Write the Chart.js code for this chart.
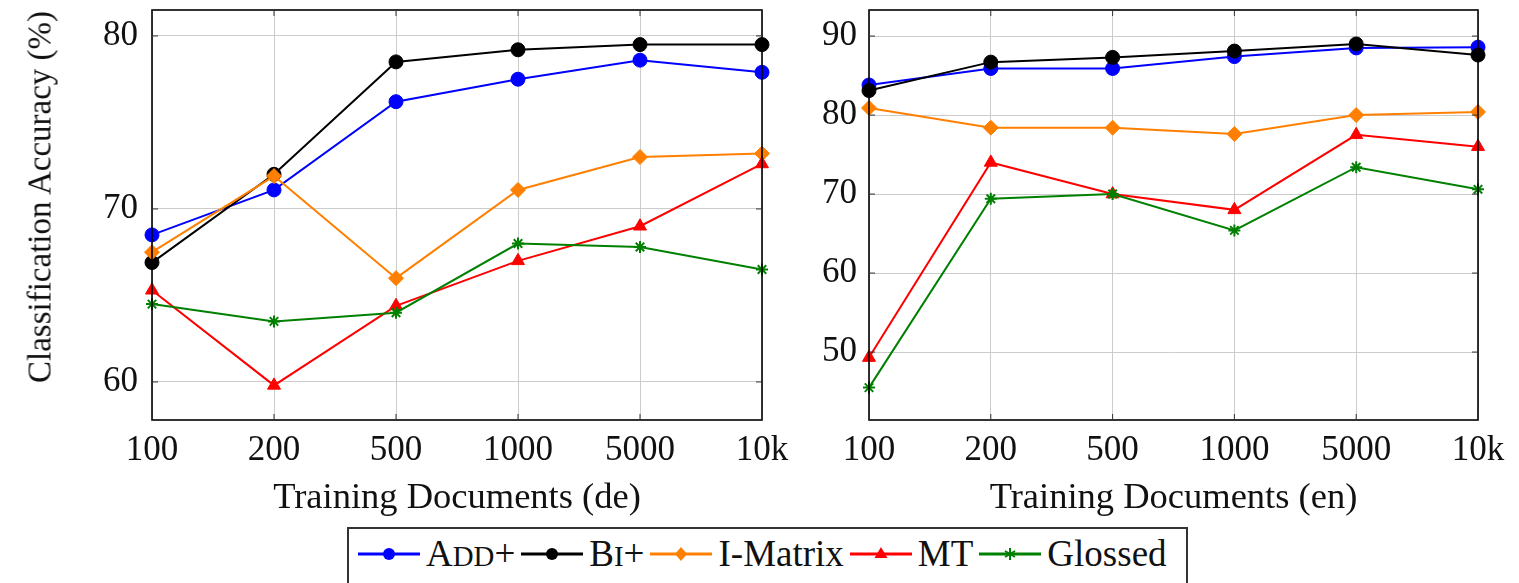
<!DOCTYPE html>
<html>
<head>
<meta charset="utf-8">
<script src="https://cdn.jsdelivr.net/npm/chart.js@4"></script>
<style>
  body { margin: 0; background: #fff; width: 1519px; height: 583px; overflow: hidden; position: relative; }
  .panel { position: absolute; top: 0; height: 520px; }
  #left { left: 0; width: 790px; }
  #right { left: 780px; width: 739px; }
  .ytitle {
    position: absolute; left: 40px; top: 197px; white-space: nowrap;
    transform: translate(-50%, -50%) rotate(-90deg);
    font-family: "Liberation Serif", serif; font-size: 33px; color: #111; line-height: 1;
  }
  .legend {
    position: absolute; left: 347px; top: 527px; width: 841px; height: 70px;
    border: 2px solid #333; box-sizing: border-box;
    display: flex; align-items: flex-start; padding: 3px 0 0 9px;
    font-family: "Liberation Serif", serif; font-size: 37px; color: #111;
  }
  .legend .item { display: flex; align-items: center; margin-right: 6px; }
  .legend svg { margin-right: 6px; }
  .sm { font-size: 0.78em; }
</style>
</head>
<body>
<div class="panel" id="left"><canvas id="deChart"></canvas></div>
<div class="panel" id="right"><canvas id="enChart"></canvas></div>
<div class="ytitle">Classification Accuracy (%)</div>
<div class="legend" id="legend"></div>

<script>
// Training set sizes (x axis)
const docLabels = ['100', '200', '500', '1000', '5000', '10k'];

// German (de) results
const deAdd = [68.5, 71.1, 76.2, 77.5, 78.6, 77.9];
const deBi = [66.9, 72.0, 78.5, 79.2, 79.5, 79.5];
const deIMatrix = [67.5, 71.9, 66.0, 71.1, 73.0, 73.2];
const deMT = [65.3, 59.8, 64.4, 67.0, 69.0, 72.6];
const deGlossed = [64.5, 63.5, 64.0, 68.0, 67.8, 66.5];

// English (en) results
const enAdd = [83.8, 85.9, 85.9, 87.4, 88.5, 88.6];
const enBi = [83.1, 86.7, 87.3, 88.1, 89.0, 87.6];
const enIMatrix = [80.9, 78.4, 78.4, 77.6, 80.0, 80.4];
const enMT = [49.3, 74.0, 70.0, 68.0, 77.5, 76.0];
const enGlossed = [45.5, 69.4, 70.0, 65.4, 73.4, 70.6];

// y tick labels
const deTicks = [60, 70, 80];
const enTicks = [50, 60, 70, 80, 90];

const seriesNames = ['Add+', 'Bi+', 'I-Matrix', 'MT', 'Glossed'];
const legendNames = ['A<span class="sm">DD</span>+', 'B<span class="sm">I</span>+', 'I-Matrix', 'MT', 'Glossed'];
const seriesColors = ['#0000ff', '#000000', '#ff8000', '#ff0000', '#008000'];
const seriesMarkers = ['circle', 'circle', 'rectRot', 'triangle', 'star'];
const markerSizes = [7, 7, 7.5, 7.5, 6];

const serif = '"Liberation Serif", "Times New Roman", serif';

// Frame around the plot area, like pgfplots' axis box
const boxPlugin = {
    id: 'box',
    afterDatasetsDraw(chart) {
        const { ctx, chartArea: a } = chart;
        ctx.save();
        ctx.strokeStyle = '#000';
        ctx.lineWidth = 1.6;
        ctx.strokeRect(a.left, a.top, a.right - a.left, a.bottom - a.top);
        // small inner tick marks
        ctx.lineWidth = 1;
        ctx.strokeStyle = '#333';
        const xs = chart.scales.x, ys = chart.scales.y;
        xs.ticks.forEach((t, i) => {
            const x = xs.getPixelForTick(i);
            ctx.beginPath();
            ctx.moveTo(x, a.bottom); ctx.lineTo(x, a.bottom - 6);
            ctx.moveTo(x, a.top); ctx.lineTo(x, a.top + 6);
            ctx.stroke();
        });
        ys.ticks.forEach(t => {
            const y = ys.getPixelForValue(t.value);
            ctx.beginPath();
            ctx.moveTo(a.left, y); ctx.lineTo(a.left + 6, y);
            ctx.moveTo(a.right, y); ctx.lineTo(a.right - 6, y);
            ctx.stroke();
        });
        ctx.restore();
    }
};

function makeDatasets(values) {
    return values.map((data, i) => ({
        label: seriesNames[i],
        data: data,
        borderColor: seriesColors[i],
        backgroundColor: seriesColors[i],
        borderWidth: 2,
        pointStyle: seriesMarkers[i],
        pointRadius: markerSizes[i],
        pointBorderWidth: i === 4 ? 2 : 1,
        tension: 0,
        order: 5 - i
    }));
}

function makeChart(canvasId, values, yMin, yMax, tickVals, xTitle, yWidth, yPad, padRight) {
    const ctx = document.getElementById(canvasId).getContext('2d');
    return new Chart(ctx, {
        type: 'line',
        data: { labels: docLabels, datasets: makeDatasets(values) },
        options: {
            responsive: true,
            maintainAspectRatio: false,
            animation: false,
            layout: { padding: { top: 10, right: padRight, bottom: 0, left: 0 } },
            plugins: { legend: { display: false }, tooltip: { enabled: false } },
            scales: {
                x: {
                    grid: { color: '#cccccc', drawTicks: false },
                    border: { display: false },
                    ticks: { color: '#111', padding: 10, font: { family: serif, size: 35 }, maxRotation: 0 },
                    title: { display: true, text: xTitle, color: '#111', padding: { top: 0, bottom: 3 },
                             font: { family: serif, size: 36.5, lineHeight: 1 } },
                    afterFit(scale) {
                        scale.height = 100;
                        scale.paddingLeft = 0;
                        scale.paddingRight = 0;
                    }
                },
                y: {
                    min: yMin,
                    max: yMax,
                    grid: { color: '#cccccc', drawTicks: false },
                    border: { display: false },
                    ticks: { color: '#111', padding: yPad, font: { family: serif, size: 35 } },
                    afterBuildTicks(scale) { scale.ticks = tickVals.map(v => ({ value: v })); },
                    afterFit(scale) {
                        scale.width = yWidth;
                        scale.paddingTop = 0;
                        scale.paddingBottom = 0;
                    }
                }
            }
        },
        plugins: [boxPlugin]
    });
}

function buildLegend() {
    const legend = document.getElementById('legend');
    legendNames.forEach((name, i) => {
        const c = seriesColors[i];
        let marker = '';
        if (seriesMarkers[i] === 'circle') marker = `<circle cx="31" cy="12" r="6" fill="${c}"/>`;
        else if (seriesMarkers[i] === 'rectRot') marker = `<polygon points="31,5 37,12 31,19 25,12" fill="${c}"/>`;
        else if (seriesMarkers[i] === 'triangle') marker = `<polygon points="31,5 37.5,16 24.5,16" fill="${c}"/>`;
        else marker = `<path d="M31 6 L31 18 M26 9 L36 15 M26 15 L36 9" stroke="${c}" stroke-width="2"/>`;
        const item = document.createElement('div');
        item.className = 'item';
        item.innerHTML = `<svg width="62" height="24"><line x1="0" y1="12" x2="62" y2="12" stroke="${c}" stroke-width="3"/>${marker}</svg>` +
            `<span>${name}</span>`;
        legend.appendChild(item);
    });
}

document.addEventListener('DOMContentLoaded', () => {
    makeChart('deChart', [deAdd, deBi, deIMatrix, deMT, deGlossed], 57.8, 81.5, deTicks,
        'Training Documents (de)', 152, 14, 28);
    makeChart('enChart', [enAdd, enBi, enIMatrix, enMT, enGlossed], 41.4, 93.3, enTicks,
        'Training Documents (en)', 89, 12, 41);
    buildLegend();
});
</script>
</body>
</html>
